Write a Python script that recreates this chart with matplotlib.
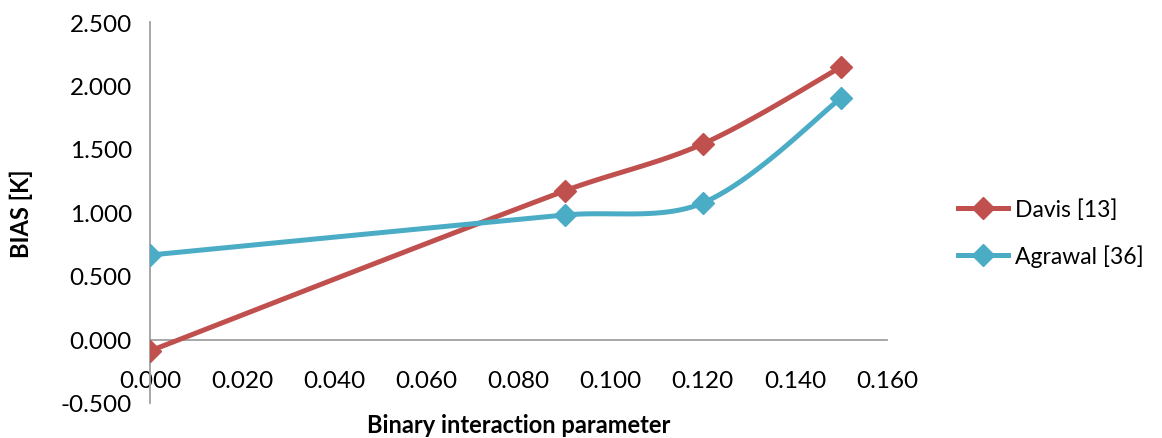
import numpy as np
import matplotlib
matplotlib.use("Agg")
import matplotlib.pyplot as plt

plt.rcParams['font.family'] = ['Lato', 'DejaVu Sans']

x_vals = [0.000, 0.090, 0.120, 0.150]
davis = [-0.09, 1.17, 1.54, 2.145]
agrawal = [0.665, 0.98, 1.075, 1.90]
series_names = ['Davis [13]', 'Agrawal [36]']
series_colors = ['#C0504D', '#4BACC6']

x_ticks = [0.000, 0.020, 0.040, 0.060, 0.080, 0.100, 0.120, 0.140, 0.160]
y_ticks = [-0.5, 0.0, 0.5, 1.0, 1.5, 2.0, 2.5]


def excel_smooth(ax, xs, ys, n=40):
    # smoothed line like Excel's: bezier segments built in screen space,
    # tangents weighted by neighbouring segment lengths
    pts = ax.transData.transform(np.column_stack([xs, ys]))
    pts = np.vstack([pts[0], pts, pts[-1]])
    seglen = np.linalg.norm(np.diff(pts, axis=0), axis=1)
    out = []
    for i in range(1, len(pts) - 2):
        p0, p3 = pts[i], pts[i + 1]
        d_prev, d_cur, d_next = seglen[i - 1], seglen[i], seglen[i + 1]
        w1 = d_cur / (d_prev + d_cur) if d_prev > 0 else 0.5
        w2 = d_cur / (d_cur + d_next) if d_next > 0 else 0.5
        c1 = p0 + (pts[i + 1] - pts[i - 1]) * w1 / 3
        c2 = p3 - (pts[i + 2] - pts[i]) * w2 / 3
        t = np.linspace(0, 1, n)[:, None]
        seg = ((1 - t) ** 3) * p0 + 3 * ((1 - t) ** 2) * t * c1 + 3 * (1 - t) * t ** 2 * c2 + t ** 3 * p3
        out.append(seg if i == 1 else seg[1:])
    out = np.vstack(out)
    d = ax.transData.inverted().transform(out)
    return d[:, 0], d[:, 1]


fig = plt.figure(figsize=(11.62, 4.39), dpi=100)
ax = fig.add_axes([150 / 1162, 1 - 404 / 439, (887 - 150) / 1162, (404 - 23) / 439])
ax.set_xlim(0, 0.16)
ax.set_ylim(-0.5, 2.5)

for ys, name, col in zip([davis, agrawal], series_names, series_colors):
    sx, sy = excel_smooth(ax, x_vals, ys)
    ax.plot(sx, sy, color=col, lw=3.6, solid_capstyle='round', zorder=3)
    ax.plot(x_vals, ys, ls='none', marker='D', ms=11.5, color=col, zorder=4)
    ax.plot([], [], color=col, lw=3.6, marker='D', ms=11.5, label=name)

for s in ['top', 'right']:
    ax.spines[s].set_visible(False)
ax.spines['bottom'].set_position(('data', 0))
ax.spines['bottom'].set_color('#A0A0A0')
ax.spines['left'].set_color('#A0A0A0')
ax.spines['bottom'].set_linewidth(1.3)
ax.spines['left'].set_linewidth(1.3)

ax.set_xticks(x_ticks)
ax.set_xticklabels([f'{v:.3f}' for v in x_ticks])
ax.set_yticks(y_ticks)
ax.set_yticklabels([f'{v:.3f}' for v in y_ticks])
ax.tick_params(axis='x', length=0, pad=22, labelsize=17.5)
ax.tick_params(axis='y', length=0, pad=13, labelsize=17.5)

ax.set_ylabel('BIAS [K]', fontsize=17, fontweight='bold')
ax.yaxis.set_label_coords(-0.159, 0.5, transform=ax.transAxes)
ax.set_xlabel('Binary interaction parameter', fontsize=17, fontweight='bold')
ax.xaxis.set_label_coords(0.5, -0.026, transform=ax.transAxes)

fig.legend(loc='center left', bbox_to_anchor=(958 / 1162, 1 - 234 / 439),
           frameon=False, fontsize=16.5, handlelength=2.2, labelspacing=1.05,
           handletextpad=0.3, borderpad=0, borderaxespad=0)

fig.savefig('out.png', dpi=100)
